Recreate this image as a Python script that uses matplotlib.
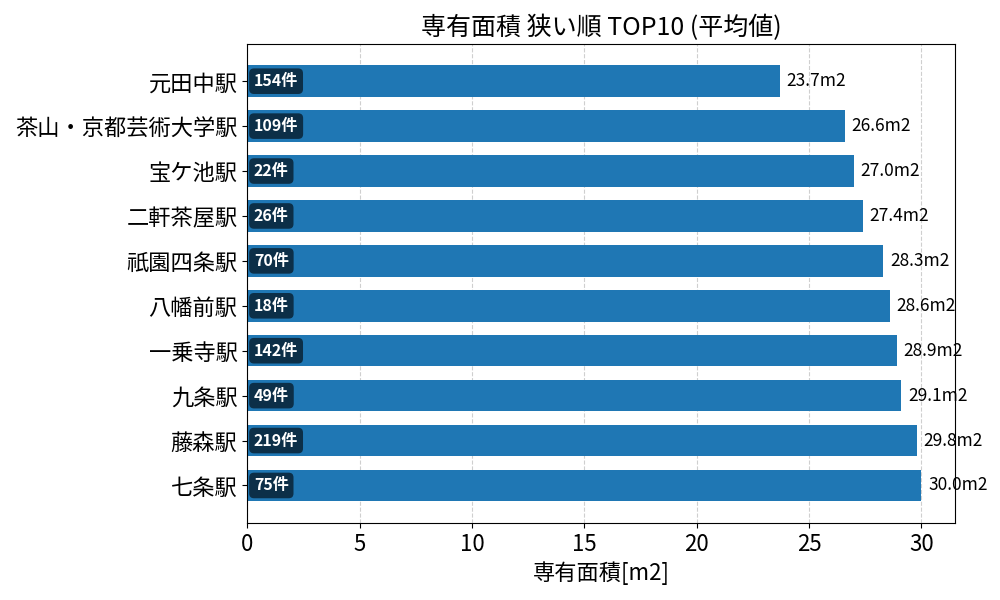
import matplotlib
matplotlib.use("Agg")
import matplotlib.pyplot as plt

plt.rcParams['font.family'] = ['Noto Sans CJK JP', 'DejaVu Sans']

stations = ["元田中駅", "茶山・京都芸術大学駅", "宝ケ池駅", "二軒茶屋駅", "祇園四条駅",
            "八幡前駅", "一乗寺駅", "九条駅", "藤森駅", "七条駅"]
areas = [23.7, 26.6, 27.0, 27.4, 28.3, 28.6, 28.9, 29.1, 29.8, 30.0]
counts = [154, 109, 22, 26, 70, 18, 142, 49, 219, 75]

fig, ax = plt.subplots(figsize=(10, 6), dpi=100)
y = list(range(len(stations)))
ax.barh(y, areas, height=0.7, color="#1f77b4")
ax.set_yticks(y)
ax.set_yticklabels(stations, fontsize=16)
ax.invert_yaxis()
ax.set_xlim(0, max(areas) * 1.05)
ax.tick_params(axis='x', labelsize=16)
ax.set_axisbelow(True)
ax.grid(axis='x', linestyle='--', alpha=0.6)
ax.set_xlabel("専有面積[m2]", fontsize=16)
ax.set_title("専有面積 狭い順 TOP10 (平均値)", fontsize=18)

for yi, a, c in zip(y, areas, counts):
    ax.text(a + 0.3, yi, f"{a:.1f}m2", va='center', ha='left', fontsize=12.5)
    ax.text(0.3, yi, f"{c}件", va='center', ha='left', fontsize=11.5,
            color='white', fontweight='bold',
            bbox=dict(boxstyle='round,pad=0.3', facecolor='black', alpha=0.6, edgecolor='none'))

fig.tight_layout()
fig.savefig("out.png")
